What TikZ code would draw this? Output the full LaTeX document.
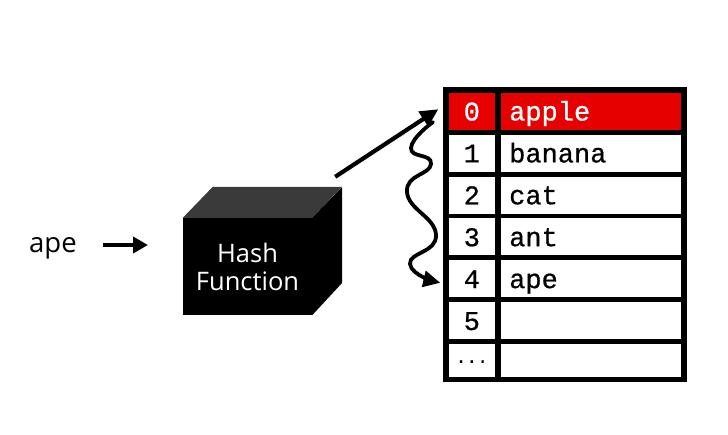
\documentclass[tikz,border=0pt]{standalone}
\usepackage{fontspec}
\setmainfont{Open Sans}
\newfontfamily\monof{Liberation Mono}[RawFeature={embolden=0.7}]
\usetikzlibrary{arrows.meta}
\definecolor{hred}{HTML}{E60000}
\definecolor{topgray}{HTML}{3A3A3A}
\begin{document}
\begin{tikzpicture}[x=1pt,y=-1pt,
  arr/.style={line width=4.2pt, -{Triangle[length=18pt,width=17pt]}},
  cellw/.style={fill=white, draw=none, inner sep=0, anchor=north west},
  idxw/.style={cellw, minimum width=46.7pt},
  valw/.style={cellw, minimum width=180pt},
  celltxt/.style={font=\fontsize{27}{30}\monof, inner sep=0},
  ]
\useasboundingbox (0,0) rectangle (728,434);

% ---- table frame
\node[fill=black, inner sep=0, minimum width=244.4pt, minimum height=295pt, anchor=north west] (table) at (442.3,87) {};

% ---- rows
\foreach \i/\h in {0/37,1/37,2/37,3/37,4/37,5/37,6/32.6}{
  \node[idxw, minimum height=\h pt] (idx\i) at (448.3,{92.5+41.9*\i}) {};
  \node[valw, minimum height=\h pt] (val\i) at (500.7,{92.5+41.9*\i}) {};
}
\node[idxw, minimum height=37pt, fill=hred] at (idx0.north west) {};
\node[valw, minimum height=37pt, fill=hred] at (val0.north west) {};

\node[celltxt, anchor=base, text=white] (t0) at ([yshift=-28pt]idx0.north) {0};
\node[celltxt, anchor=base west, text=white] (v0) at ([xshift=8.3pt,yshift=-28pt]val0.north west) {apple};
\foreach \i/\v in {1/banana,2/cat,3/ant,4/ape}{
  \node[celltxt, anchor=base] (t\i) at ([yshift=-28pt]idx\i.north) {\i};
  \node[celltxt, anchor=base west] (v\i) at ([xshift=8.3pt,yshift=-28pt]val\i.north west) {\v};
}
\node[celltxt, anchor=base] (t5) at ([yshift=-28pt]idx5.north) {5};
\node[inner sep=0, anchor=base, font=\fontsize{18}{20}\monof] (t6) at ([yshift=-19pt]idx6.north) {...};

% ---- hash cube
\node[fill=black, inner sep=0, minimum width=129pt, minimum height=97pt,
      text=white, align=center, font=\fontsize{25.5}{28}\selectfont] (hash) at (247.5,266.5) {Hash\\Function};
\fill[topgray] (hash.north west) -- ++(30,-31) -- ++(129,0) -- (hash.north east) -- cycle;
\fill[black] (hash.north east) -- ++(30,-31) -- ++(0,96) -- (hash.south east) -- cycle;

% ---- input
\node[anchor=base west, inner sep=0, font=\fontsize{27.5}{30}\selectfont] (ape) at (29,252) {ape};
\coordinate (hin) at (148,245);
\draw[arr, -{Triangle[length=15pt,width=16pt]}] ([xshift=26pt]ape.east |- hin) -- (hin);

% ---- arrow to slot 0
\coordinate (c1) at ([xshift=23pt,yshift=41pt]hash.north east);
\draw[arr] (c1) -- ([xshift=-10pt,yshift=2pt]idx0.west);

% ---- probing squiggle to slot 4
\coordinate (sqend) at ([xshift=-8pt,yshift=-4pt]idx4.west);
\draw[arr, line width=3.8pt, line cap=round, -{Triangle[length=17pt,width=16pt]}]
  plot[smooth, tension=0.9] coordinates {(433,122) (411,148) (431,164) (407,192) (436,235) (410,264) (sqend)};
\end{tikzpicture}
\end{document}
